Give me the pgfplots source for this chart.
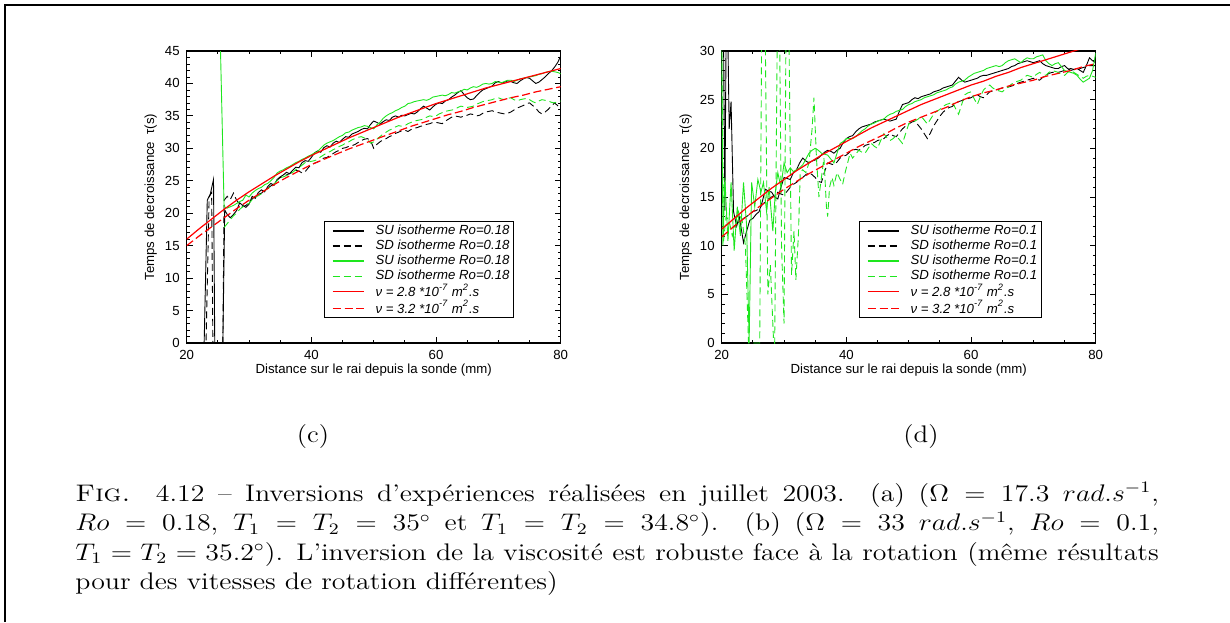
\documentclass[border=0pt]{standalone}
\usepackage{fontspec}
\usepackage{pgfplots}
\pgfplotsset{compat=1.18}
\newfontfamily\plotfont{Liberation Sans}
\definecolor{lgreen}{RGB}{30,230,30}
\definecolor{fitred}{RGB}{255,0,0}
\newcommand{\pf}{\plotfont\fontsize{6.6}{7.5}\selectfont}

\pgfplotsset{
  panel/.style={
    width=187pt, height=146pt, scale only axis,
    xmin=20, xmax=80, ymin=0,
    xtick={20,40,60,80}, minor x tick num=3, minor y tick num=4,
    tick align=inside, major tick length=3pt, minor tick length=1.6pt,
    tick style={black, line width=0.4pt},
    axis line style={line width=0.6pt},
    /pgf/number format/assume math mode=true,
    tick label style={font=\pf},
    xlabel={Distance sur le rai depuis la sonde (mm)},
    ylabel={Temps de decroissance\ \ τ(s)},
    every axis x label/.style={at={(axis description cs:0.5,0)}, yshift=-13.5pt, anchor=center, font=\pf},
    every axis y label/.style={at={(axis description cs:0,0.5)}, xshift=-18pt, rotate=90, anchor=center, font=\pf},
    % the sample is stroked twice so that its colour is always set
    legend image code/.code={\path (0pt,-2.4pt) (23pt,3.9pt);
      \draw[##1, line width=0.7pt] (2pt,0pt) -- (17.5pt,0pt);
      \draw[##1, line width=0.7pt] (2pt,0pt) -- (17.5pt,0pt);},
    legend cell align=left,
    legend style={at={(axis description cs:0.367,0.0856)}, anchor=south west,
      inner xsep=2pt, inner ysep=0.5pt, row sep=0pt, font=\pf\itshape, text=black,
      nodes={inner xsep=0pt, inner ysep=0.3pt}},
  },
}

\begin{document}
\begin{tikzpicture}
\useasboundingbox (0,0) rectangle (615pt,311pt);
\draw[line width=1pt] (2.5pt,0pt) -- (2.5pt,308.5pt) -- (615pt,308.5pt);

% (c)
\begin{axis}[panel, at={(93.35pt,139.5pt)}, anchor=south west,
  ymax=45, ytick={0,5,...,45}]
\addplot[black, line width=0.45pt] coordinates {
(20,0)(22.8,0)(23.3,22)(23.8,23)(24.3,25.2)(24.5,0)(25.8,0)(26.1,20.5)(26.5,19.8)(27,19.3)(27.5,19.8)(28,20.4)(28.5,21.6)(29,21.2)(29.5,20.9)
(30,21.4)(30.5,22.6)(31,22.3)(31.5,23.2)(32,23.6)(32.5,23.3)(33,24.1)(33.5,24.6)(34,24.3)(34.5,25.2)(35,25.6)(35.5,25.9)(36,26.3)(36.5,26.1)(37,26.6)(37.5,27.1)(38,27.0)(38.5,27.8)(39,28.1)(39.5,28.0)
(40,28.6)(40.5,29.3)(41,29.6)(41.5,29.4)(42,30.1)(42.5,30.4)(43,30.2)(43.5,30.8)(44,31.1)(44.5,30.9)(45,31.4)(45.5,31.8)(46,31.7)(46.5,32.2)(47,32.4)(47.5,32.6)(48,32.9)(48.5,33.1)(49,33.0)(49.5,33.7)
(50,34.2)(50.5,34.0)(51,33.7)(51.5,34.1)(52,34.4)(52.5,34.3)(53,34.8)(53.5,35.0)(54,34.8)(54.5,35.1)(55,35.0)(55.5,35.2)(56,35.4)(56.5,35.3)(57,35.6)(57.5,36.1)(58,36.5)(58.5,36.2)(59,35.9)(59.5,36.4)
(60,36.8)(60.5,37.0)(61,36.9)(61.5,37.3)(62,37.5)(62.5,37.9)(63,38.2)(63.5,38.6)(64,38.9)(64.5,38.3)(65,37.8)(65.5,37.5)(66,37.6)(66.5,38.1)(67,38.6)(67.5,39.0)(68,39.2)(68.5,39.4)(69,39.6)(69.5,40.1)
(70,40.3)(70.5,40.1)(71,40.2)(71.5,40.4)(72,40.3)(72.5,40.1)(73,40.0)(73.5,40.4)(74,40.7)(74.5,40.9)(75,40.8)(75.5,40.4)(76,40.0)(76.5,40.2)(77,40.6)(77.5,41.0)(78,41.5)(78.5,41.9)(79,42.5)(79.5,43.2)(80,44.2)};
\addplot[black, line width=0.45pt, dash pattern=on 3.5pt off 2pt] coordinates {
(20,0)(23.1,0)(23.6,22.5)(24.0,23.2)(24.2,0)(25.8,0)(26.0,22.0)(26.5,22.6)(27,22.1)(27.5,23.1)(28,22.0)(28.5,21.4)(29,21.0)(29.5,21.2)
(30,21.6)(30.5,22.2)(31,22.6)(31.5,22.9)(32,23.1)(32.5,23.5)(33,23.9)(33.5,24.2)(34,24.6)(34.5,25.1)(35,25.5)(35.5,25.7)(36,25.9)(36.5,26.1)(37,26.4)(37.5,26.6)(38,26.5)(38.5,26.2)(39,26.4)(39.5,27.0)
(40,27.5)(40.5,27.7)(41,27.9)(41.5,28.1)(42,28.5)(42.5,28.6)(43,28.9)(43.5,29.2)(44,29.5)(44.5,29.7)(45,30.0)(45.5,30.1)(46,30.3)(46.5,30.4)(47,30.6)(47.5,30.9)(48,31.2)(48.5,31.4)(49,31.5)(49.5,31.2)
(50,30.0)(50.5,30.6)(51,31.0)(51.5,31.3)(52,31.5)(52.5,31.8)(53,32.0)(53.5,32.3)(54,32.5)(54.5,32.7)(55,32.8)(55.5,32.6)(56,32.9)(56.5,33.1)(57,33.2)(57.5,33.4)(58,33.5)(58.5,33.7)(59,33.8)(59.5,34.0)
(60,34.0)(60.5,33.9)(61,33.8)(61.5,34.2)(62,34.5)(62.5,34.8)(63,35.0)(63.5,34.9)(64,34.8)(64.5,35.0)(65,35.1)(65.5,35.3)(66,35.2)(66.5,35.0)(67,35.1)(67.5,35.4)(68,35.6)(68.5,35.7)(69,35.8)(69.5,35.6)
(70,35.5)(70.5,35.4)(71,35.3)(71.5,35.4)(72,35.6)(72.5,35.9)(73,36.2)(73.5,36.4)(74,36.6)(74.5,36.9)(75,37.0)(75.5,36.6)(76,36.2)(76.5,35.6)(77,35.3)(77.5,35.6)(78,36.0)(78.5,36.5)(79,37.0)(79.5,36.6)(80,36.0)};
\addplot[lgreen, line width=0.45pt] coordinates {
(25.4,46)(26.0,21.0)(26.5,20.8)(27,21.0)(27.5,21.2)(28,21.5)(28.5,21.8)(29,22.0)(29.5,22.8)
(30,22.5)(30.5,23.1)(31,23.5)(31.5,23.8)(32,24.0)(32.5,24.4)(33,24.6)(33.5,25.0)(34,25.5)(34.5,26.2)(35,26.5)(35.5,26.7)(36,27.0)(36.5,27.2)(37,27.5)(37.5,27.8)(38,28.0)(38.5,28.3)(39,28.5)(39.5,28.8)
(40,29.0)(40.5,29.3)(41,29.5)(41.5,30.0)(42,30.5)(42.5,30.8)(43,31.0)(43.5,31.2)(44,31.5)(44.5,31.8)(45,32.0)(45.5,32.4)(46,32.5)(46.5,32.8)(47,33.0)(47.5,33.2)(48,33.3)(48.5,33.5)(49,33.4)(49.5,33.2)
(50,33.0)(50.5,33.6)(51,34.0)(51.5,34.6)(52,35.0)(52.5,35.3)(53,35.5)(53.5,35.8)(54,36.0)(54.5,36.3)(55,36.5)(55.5,36.9)(56,37.0)(56.5,37.2)(57,37.3)(57.5,37.4)(58,37.5)(58.5,37.4)(59,37.6)(59.5,37.9)
(60,38.0)(60.5,38.1)(61,38.2)(61.5,38.1)(62,38.3)(62.5,38.6)(63,38.5)(63.5,38.7)(64,38.8)(64.5,39.1)(65,39.0)(65.5,39.3)(66,39.5)(66.5,39.4)(67,39.6)(67.5,39.9)(68,40.0)(68.5,39.9)(69,40.0)(69.5,40.3)
(70,40.2)(70.5,40.1)(71,40.3)(71.5,40.5)(72,40.5)(72.5,40.3)(73,40.5)(73.5,40.7)(74,40.8)(74.5,40.9)(75,41.0)(75.5,41.1)(76,41.2)(76.5,41.4)(77,41.5)(77.5,41.7)(78,41.8)(78.5,41.9)(79,41.8)(79.5,41.7)(80,41.5)};
\addplot[lgreen, line width=0.45pt, dash pattern=on 3.5pt off 2pt] coordinates {
(26.0,17.8)(26.5,18.4)(27,19.0)(27.5,19.6)(28,20.0)(28.5,20.6)(29,21.0)(29.5,21.3)
(30,21.5)(30.5,22.1)(31,22.5)(31.5,22.7)(32,23.0)(32.5,23.5)(33,23.8)(33.5,24.1)(34,24.5)(34.5,25.0)(35,25.5)(35.5,25.6)(36,25.8)(36.5,26.0)(37,26.3)(37.5,26.7)(38,27.0)(38.5,27.4)(39,27.8)(39.5,27.9)
(40,28.0)(40.5,28.1)(41,28.3)(41.5,28.7)(42,29.0)(42.5,29.3)(43,29.5)(43.5,29.8)(44,30.0)(44.5,30.3)(45,30.5)(45.5,30.8)(46,31.0)(46.5,31.3)(47,31.5)(47.5,31.7)(48,31.8)(48.5,31.6)(49,31.3)(49.5,30.8)
(50,31.0)(50.5,31.4)(51,31.8)(51.5,32.2)(52,32.5)(52.5,32.8)(53,33.0)(53.5,33.3)(54,33.5)(54.5,33.4)(55,33.5)(55.5,33.8)(56,34.0)(56.5,34.2)(57,34.3)(57.5,34.4)(58,34.5)(58.5,34.8)(59,35.0)(59.5,34.9)
(60,35.0)(60.5,35.3)(61,35.5)(61.5,35.7)(62,35.8)(62.5,35.9)(63,36.0)(63.5,36.3)(64,36.5)(64.5,36.4)(65,36.3)(65.5,36.4)(66,36.5)(66.5,36.8)(67,37.0)(67.5,37.2)(68,37.3)(68.5,37.4)(69,37.5)(69.5,37.7)
(70,37.8)(70.5,37.6)(71,37.5)(71.5,37.7)(72,37.8)(72.5,37.5)(73,37.3)(73.5,37.5)(74,37.6)(74.5,37.7)(75,37.5)(75.5,37.2)(76,37.0)(76.5,37.3)(77,37.5)(77.5,37.4)(78,37.3)(78.5,37.1)(79,37.0)(79.5,37.2)(80,37.3)};
\addplot[fitred, line width=0.6pt] coordinates {
(20,16.0)(22,17.6)(24,19.1)(26,20.6)(28,22.0)(30,23.3)(32,24.5)(34,25.7)(36,26.8)(38,27.9)(40,28.9)(42,29.8)(44,30.7)(46,31.6)(48,32.4)(50,33.2)
(52,34.0)(54,34.8)(56,35.5)(58,36.2)(60,36.9)(62,37.5)(64,38.1)(66,38.7)(68,39.3)(70,39.8)(72,40.3)(74,40.8)(76,41.3)(78,41.8)(80,42.3)};
\addplot[fitred, line width=0.6pt, dash pattern=on 4pt off 1.8pt] coordinates {
(20,15.0)(22,16.5)(24,17.9)(26,19.3)(28,20.7)(30,22.0)(32,23.2)(34,24.4)(36,25.5)(38,26.5)(40,27.5)(42,28.3)(44,29.1)(46,29.9)(48,30.6)(50,31.3)
(52,32.0)(54,32.7)(56,33.4)(58,34.0)(60,34.6)(62,35.2)(64,35.7)(66,36.3)(68,36.8)(70,37.3)(72,37.8)(74,38.2)(76,38.7)(78,39.1)(80,39.5)};
\legend{SU isotherme Ro=0.18, SD isotherme Ro=0.18, SU isotherme Ro=0.18, SD isotherme Ro=0.18,
  ν = 2.8 *10\textsuperscript{-7} m\textsuperscript{2}.s, ν = 3.2 *10\textsuperscript{-7} m\textsuperscript{2}.s}
\end{axis}

% (d)
\begin{axis}[panel, at={(360.85pt,139.5pt)}, anchor=south west,
  ymax=30, ytick={0,5,...,30}]
\addplot[black, line width=0.45pt] coordinates {
(20.0,31)(20.3,31)(20.5,13.6)(20.7,31)(21.0,31)(21.2,22.0)(21.5,24.8)(21.9,13.5)(22.4,12.0)(22.8,13.0)(23.2,11.5)(23.5,10.3)(24,11.5)(24.5,12.6)(25,12.8)(25.5,13.2)(26,13.5)(26.5,14.5)(27,15.8)(27.5,15.6)(28,15.5)(28.5,15.0)(29,14.8)(29.5,16.0)
(30,17.0)(30.5,16.9)(31,16.8)(31.5,17.5)(32,17.8)(32.5,18.5)(33,19.0)(33.5,18.7)(34,18.5)(34.5,18.7)(35,18.8)(35.5,19.0)(36,19.3)(36.5,19.6)(37,19.8)(37.5,19.7)(38,19.5)(38.5,19.8)(39,20.0)(39.5,20.6)
(40,21.0)(40.5,21.2)(41,21.3)(41.5,21.7)(42,22.0)(42.5,22.2)(43,22.3)(43.5,22.4)(44,22.5)(44.5,22.7)(45,22.8)(45.5,22.9)(46,23.0)(46.5,22.9)(47,22.8)(47.5,22.9)(48,23.0)(48.5,23.8)(49,24.5)(49.5,24.6)
(50,24.7)(50.5,25.0)(51,25.2)(51.5,25.1)(52,25.3)(52.5,25.4)(53,25.5)(53.5,25.6)(54,25.8)(54.5,25.9)(55,26.0)(55.5,26.2)(56,26.3)(56.5,26.4)(57,26.5)(57.5,26.9)(58,27.3)(58.5,27.0)(59,26.8)(59.5,26.9)
(60,27.0)(60.5,27.1)(61,27.2)(61.5,27.4)(62,27.5)(62.5,27.5)(63,27.6)(63.5,27.7)(64,27.8)(64.5,27.9)(65,28.0)(65.5,28.1)(66,28.2)(66.5,28.4)(67,28.5)(67.5,28.7)(68,28.8)(68.5,28.9)(69,29.0)(69.5,28.9)
(70,28.8)(70.5,28.9)(71,29.0)(71.5,28.7)(72,28.5)(72.5,28.4)(73,28.3)(73.5,28.2)(74,28.2)(74.5,28.4)(75,28.5)(75.5,28.2)(76,28.0)(76.5,28.1)(77,28.2)(77.5,28.0)(78,27.8)(78.5,28.5)(79,29.3)(79.5,29.0)(80,28.8)};
\addplot[black, line width=0.45pt, dash pattern=on 3.5pt off 2pt] coordinates {
(22.0,12.0)(22.5,12.3)(23,12.6)(23.5,12.8)(24,13.0)(24.5,13.2)(25,13.5)(25.5,13.6)(26,13.8)(26.5,14.2)(27,14.5)(27.5,14.8)(28,15.0)(28.5,15.2)(29,15.5)(29.5,15.3)
(30,15.2)(30.5,15.6)(31,16.0)(31.5,16.3)(32,16.5)(32.5,16.8)(33,17.0)(33.5,17.3)(34,17.5)(34.5,17.3)(35,17.0)(35.5,16.6)(36,16.5)(36.5,17.6)(37,18.5)(37.5,18.4)(38,18.3)(38.5,18.6)(39,19.0)(39.5,19.2)
(40,19.3)(40.5,19.6)(41,19.8)(41.5,19.9)(42,19.8)(42.5,20.0)(43,20.3)(43.5,20.4)(44,20.5)(44.5,20.6)(45,20.8)(45.5,20.9)(46,21.0)(46.5,21.3)(47,21.5)(47.5,21.3)(48,21.2)(48.5,21.6)(49,22.0)(49.5,22.3)
(50,22.5)(50.5,22.7)(51,22.8)(51.5,22.4)(52,22.0)(52.5,21.5)(53,21.0)(53.5,21.6)(54,22.3)(54.5,22.8)(55,23.3)(55.5,23.7)(56,24.0)(56.5,24.2)(57,24.3)(57.5,24.6)(58,24.8)(58.5,24.9)(59,25.0)(59.5,25.1)
(60,25.2)(60.5,25.4)(61,25.5)(61.5,25.3)(62,25.2)(62.5,25.5)(63,25.8)(63.5,25.9)(64,26.0)(64.5,26.1)(65,26.2)(65.5,26.3)(66,26.3)(66.5,26.4)(67,26.5)(67.5,26.7)(68,26.8)(68.5,26.9)(69,27.0)(69.5,27.1)
(70,27.2)(70.5,27.1)(71,27.0)(71.5,27.3)(72,27.5)(72.5,27.7)(73,27.8)(73.5,27.8)(74,27.8)(74.5,27.9)(75,28.0)(75.5,28.1)(76,28.2)(76.5,28.1)(77,28.0)(77.5,28.2)(78,28.3)(78.5,28.4)(79,28.5)(79.5,28.5)(80,28.5)};
\addplot[lgreen, line width=0.45pt] coordinates {
(20.0,31)(20.2,10.0)(20.5,17.0)(21.0,10.5)(21.5,16.5)(22.0,9.5)(22.5,14.0)(23.0,11.0)(23.5,16.5)(24.0,12.0)(24.4,0)(24.8,16.5)(25.3,14.0)(25.8,16.8)(26.3,15.5)(26.7,16.5)(27.2,13.5)(27.6,16.0)(28.2,11.5)(28.6,15.5)(29.0,17.5)(29.5,16.0)
(30,18.5)(30.5,17.5)(31,18.0)(31.5,17.6)(32,17.8)(32.5,18.0)(33,18.3)(33.5,18.9)(34,19.5)(34.5,19.8)(35,20.0)(35.5,19.8)(36,19.5)(36.5,19.4)(37,19.3)(37.5,18.9)(38,18.5)(38.5,19.5)(39,20.5)(39.5,20.7)
(40,21.0)(40.5,21.0)(41,21.0)(41.5,21.2)(42,21.5)(42.5,21.8)(43,22.0)(43.5,22.3)(44,22.5)(44.5,22.6)(45,22.8)(45.5,22.9)(46,23.0)(46.5,23.3)(47,23.5)(47.5,23.6)(48,23.8)(48.5,23.9)(49,24.0)(49.5,24.3)
(50,24.5)(50.5,24.6)(51,24.8)(51.5,24.9)(52,25.0)(52.5,25.2)(53,25.3)(53.5,25.4)(54,25.5)(54.5,25.7)(55,25.8)(55.5,25.9)(56,26.0)(56.5,26.2)(57,26.3)(57.5,26.6)(58,26.8)(58.5,26.9)(59,27.0)(59.5,27.3)
(60,27.5)(60.5,27.7)(61,27.8)(61.5,27.9)(62,28.0)(62.5,28.2)(63,28.3)(63.5,28.4)(64,28.5)(64.5,28.4)(65,28.5)(65.5,28.8)(66,29.0)(66.5,29.1)(67,29.2)(67.5,29.0)(68,28.8)(68.5,29.1)(69,29.3)(69.5,29.2)
(70,29.2)(70.5,29.4)(71,29.5)(71.5,29.6)(72,29.0)(72.5,28.7)(73,28.5)(73.5,28.7)(74,28.8)(74.5,28.4)(75,28.0)(75.5,27.9)(76,27.8)(76.5,27.7)(77,27.5)(77.5,27.1)(78,26.8)(78.5,27.0)(79,27.2)(79.5,28.0)(80,29.8)};
\addplot[lgreen, line width=0.45pt, dash pattern=on 3.5pt off 2pt] coordinates {
(20.0,31)(20.3,10.5)(20.7,13.0)(21.2,12.5)(21.7,11.0)(22.2,12.0)(22.7,13.5)(23.3,12.5)(23.8,10.0)(24.3,0)(26.1,0)(26.4,31)(27.0,31)(27.4,5.0)(27.8,8.0)(28.3,0.5)(28.5,0)(28.9,31)(29.3,31)(29.6,10.0)
(30.0,2.0)(30.3,31)(30.8,31)(31.2,7.0)(31.6,11.5)(31.9,6.5)(32.3,11.0)(32.6,17.5)(33.0,17.8)(33.5,17.5)(34.0,18.5)(34.5,22.0)(34.8,25.2)(35.2,19.0)(35.6,15.0)(36.0,17.0)(36.4,19.0)(36.8,14.0)(37.0,13.0)(37.3,16.0)(37.7,17.0)(38.0,16.2)(38.5,17.5)(39.0,16.8)(39.4,16.3)(39.8,17.5)
(40.2,18.5)(40.6,19.5)(41,19.0)(41.5,19.4)(42,19.8)(42.5,19.6)(43,19.5)(43.5,20.0)(44,20.5)(44.5,20.2)(45,20.0)(45.5,20.8)(46,21.5)(46.5,21.1)(47,20.8)(47.5,21.0)(48,21.3)(48.5,20.9)(49,20.5)(49.5,21.5)
(50,22.5)(50.5,22.7)(51,22.8)(51.5,23.0)(52,23.3)(52.5,22.9)(53,22.5)(53.5,23.0)(54,23.5)(54.5,23.8)(55,24.0)(55.5,24.3)(56,24.5)(56.5,24.6)(57,24.8)(57.5,24.1)(58,23.5)(58.5,24.5)(59,25.5)(59.5,25.7)
(60,25.8)(60.5,25.1)(61,24.5)(61.5,25.3)(62,26.0)(62.5,26.3)(63,26.5)(63.5,26.2)(64,26.0)(64.5,25.9)(65,25.8)(65.5,26.1)(66,26.3)(66.5,26.6)(67,26.8)(67.5,26.9)(68,27.0)(68.5,27.3)(69,27.5)(69.5,27.4)
(70,27.3)(70.5,27.6)(71,27.8)(71.5,27.6)(72,27.5)(72.5,27.8)(73,28.0)(73.5,27.9)(74,27.8)(74.5,27.6)(75,27.5)(75.5,27.8)(76,28.0)(76.5,27.8)(77,27.6)(77.5,27.4)(78,27.2)(78.5,27.4)(79,27.5)(79.5,27.4)(80,27.3)};
\addplot[fitred, line width=0.6pt] coordinates {
(20,11.7)(22,12.8)(24,13.9)(26,14.9)(28,15.9)(30,16.8)(32,17.7)(34,18.5)(36,19.3)(38,20.0)(40,20.7)(42,21.4)(44,22.1)(46,22.7)(48,23.3)(50,23.9)
(52,24.5)(54,25.0)(56,25.5)(58,26.0)(60,26.5)(62,26.9)(64,27.4)(66,27.8)(68,28.3)(70,28.7)(72,29.1)(74,29.5)(76,29.9)(78,30.3)(80,30.7)};
\addplot[fitred, line width=0.6pt, dash pattern=on 4pt off 1.8pt] coordinates {
(20,10.9)(22,12.0)(24,13.0)(26,14.0)(28,14.9)(30,15.8)(32,16.6)(34,17.4)(36,18.1)(38,18.8)(40,19.5)(42,20.2)(44,20.8)(46,21.4)(48,22.1)(50,22.7)
(52,23.2)(54,23.7)(56,24.2)(58,24.8)(60,25.3)(62,25.7)(64,26.0)(66,26.4)(68,26.7)(70,27.0)(72,27.4)(74,27.7)(76,28.0)(78,28.4)(80,28.7)};
\legend{SU isotherme Ro=0.1, SD isotherme Ro=0.1, SU isotherme Ro=0.1, SD isotherme Ro=0.1,
  ν = 2.8 *10\textsuperscript{-7} m\textsuperscript{2}.s, ν = 3.2 *10\textsuperscript{-7} m\textsuperscript{2}.s}
\end{axis}

\node[font=\fontsize{12}{14.5}\selectfont] at (156.5pt,92.5pt) {\scalebox{1.12}[1]{(c)}};
\node[font=\fontsize{12}{14.5}\selectfont] at (460.5pt,92.5pt) {\scalebox{1.12}[1]{(d)}};

\node[anchor=north west, inner sep=0pt] at (37.5pt,70pt) {\scalebox{1.16}[1]{%
\parbox[t]{467pt}{\fontsize{12}{14.65}\selectfont\noindent
\textsc{Fig.} 4.12 -- Inversions d'expériences réalisées en juillet 2003. (a) ($\Omega = 17.3\ rad.s^{-1}$,\linebreak
$Ro = 0.18$, $T_1 = T_2 = 35^\circ$ et $T_1 = T_2 = 34.8^\circ$). (b) ($\Omega = 33\ rad.s^{-1}$, $Ro = 0.1$,\linebreak
$T_1 = T_2 = 35.2^\circ$). L'inversion de la viscosité est robuste face à la rotation (même résultats\linebreak
pour des vitesses de rotation différentes)}}};
\end{tikzpicture}
\end{document}
